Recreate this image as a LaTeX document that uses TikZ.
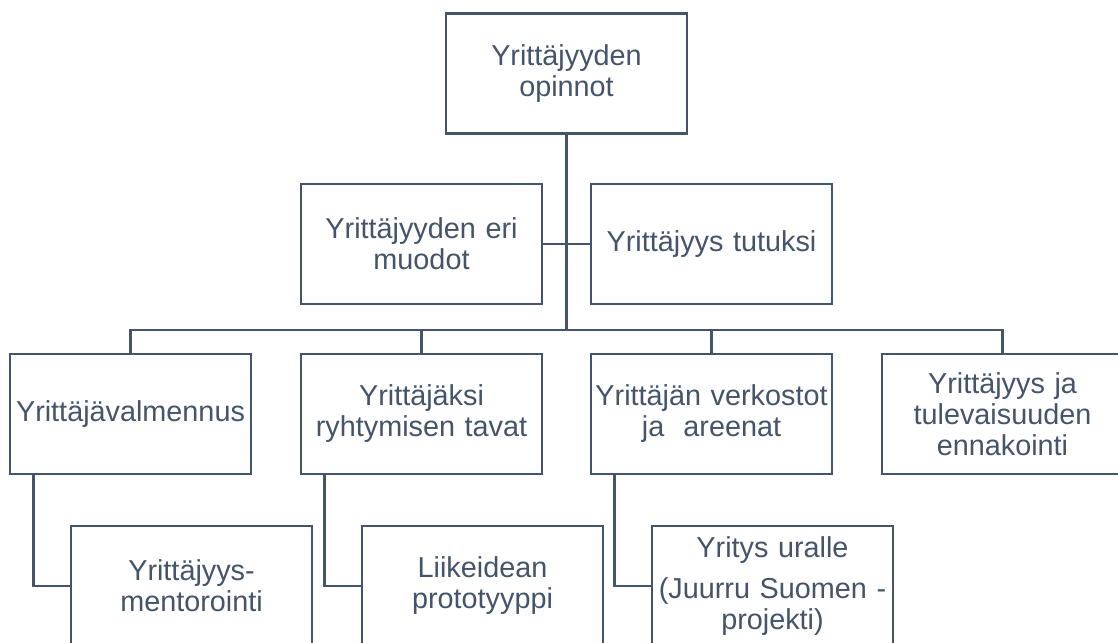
\documentclass[tikz,border=0pt]{standalone}
\usepackage{fontspec}
\setmainfont{Liberation Sans}
\definecolor{ink}{HTML}{44546A}
\begin{document}
\begin{tikzpicture}[x=1pt,y=-1pt,
  box/.style={draw=ink,line width=2.8pt,fill=white,minimum width=241pt,minimum height=120pt,
    inner sep=2pt,align=center,text=ink,font=\fontsize{28.8}{31}\selectfont,text width=237pt},
  link/.style={draw=ink,line width=2.8pt}]
\useasboundingbox (0,0) rectangle (1118,642);
\clip (0,0) rectangle (1118,642);
\fill[white] (0,0) rectangle (1118,642);
\coordinate (bar) at (566.5,330);
\node[box] (top) at (566.5,73.5) {Yrittäjyyden\\opinnot};
\draw[link] (top.south) -- (bar);
\node[box] (r2a) at (421.5,244) {Yrittäjyyden eri\\muodot};
\node[box] (r2b) at (711.5,244) {Yrittäjyys tutuksi};
\draw[link] (r2a.east) -- (r2b.west);
\node[box] (r3a) at (130.5,414) {Yrittäjävalmennus};
\node[box] (r3b) at (421.5,414) {Yrittäjäksi\\ryhtymisen tavat};
\node[box] (r3c) at (711.5,414) {Yrittäjän verkostot\\ja~~areenat};
\node[box] (r3d) at (1002.5,414) {Yrittäjyys ja\\tulevaisuuden\\ennakointi};
\draw[link] (r3a.north) -- (r3a.north |- bar) -- (r3d.north |- bar) -- (r3d.north);
\draw[link] (r3b.north) -- (r3b.north |- bar);
\draw[link] (r3c.north) -- (r3c.north |- bar);
\node[box] (r4a) at (191.5,586) {Yrittäjyys-\\mentorointi};
\node[box] (r4b) at (482.5,586) {Liikeidean\\prototyyppi};
\node[box] (r4c) at (772.5,586) {Yritys uralle\\[10pt](Juurru Suomen -\\projekti)};
\draw[link] ([xshift=25pt]r3a.south west) |- (r4a.west);
\draw[link] ([xshift=25pt]r3b.south west) |- (r4b.west);
\draw[link] ([xshift=25pt]r3c.south west) |- (r4c.west);
\end{tikzpicture}
\end{document}
